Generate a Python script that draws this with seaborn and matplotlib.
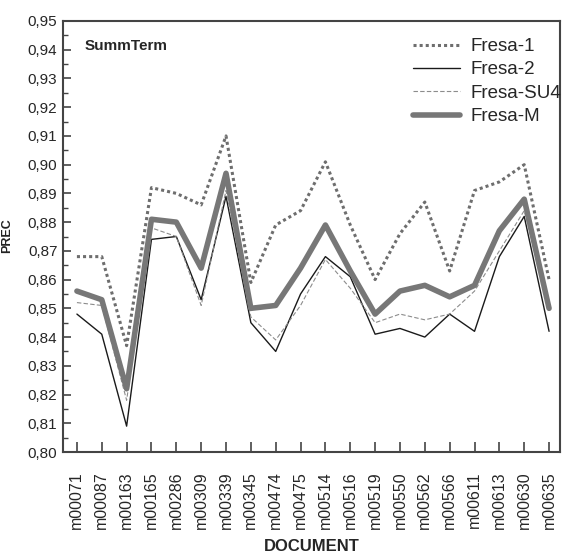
import pandas as pd
import seaborn as sns
import matplotlib
matplotlib.use("Agg")
import matplotlib.pyplot as plt
from matplotlib.ticker import MultipleLocator, FuncFormatter

# -----------------------------------------------------------
# data
# -----------------------------------------------------------
documents = ["m00071", "m00087", "m00163", "m00165", "m00286", "m00309", "m00339",
             "m00345", "m00474", "m00475", "m00514", "m00516", "m00519", "m00550",
             "m00562", "m00566", "m00611", "m00613", "m00630", "m00635"]

fresa_1 = [0.868, 0.868, 0.837, 0.892, 0.890, 0.886, 0.910, 0.859, 0.879, 0.884,
           0.901, 0.879, 0.860, 0.876, 0.887, 0.863, 0.891, 0.894, 0.900, 0.860]
fresa_2 = [0.848, 0.841, 0.809, 0.874, 0.875, 0.853, 0.889, 0.845, 0.835, 0.855,
           0.868, 0.861, 0.841, 0.843, 0.840, 0.848, 0.842, 0.868, 0.882, 0.842]
fresa_su4 = [0.852, 0.851, 0.818, 0.878, 0.875, 0.851, 0.891, 0.847, 0.839, 0.851,
             0.867, 0.857, 0.845, 0.848, 0.846, 0.848, 0.856, 0.870, 0.884, 0.850]
fresa_m = [0.856, 0.853, 0.822, 0.881, 0.880, 0.864, 0.897, 0.850, 0.851, 0.864,
           0.879, 0.863, 0.848, 0.856, 0.858, 0.854, 0.858, 0.877, 0.888, 0.850]

series_names = ["Fresa-1", "Fresa-2", "Fresa-SU4", "Fresa-M"]

sns.set_style("ticks")
plt.rcParams["font.family"] = ["Liberation Sans", "DejaVu Sans"]

df = pd.DataFrame({"DOCUMENT": documents, "Fresa-1": fresa_1, "Fresa-2": fresa_2,
                   "Fresa-SU4": fresa_su4, "Fresa-M": fresa_m})
df["pos"] = range(len(documents))

styles = {
    "Fresa-1": dict(color="#6e6e6e", lw=2.2, ls=(0, (1, 1))),
    "Fresa-2": dict(color="#1a1a1a", lw=1.0, ls="-"),
    "Fresa-SU4": dict(color="#8c8c8c", lw=0.8, ls=(0, (4, 2))),
    "Fresa-M": dict(color="#777777", lw=4.0, ls="-"),
}

fig = plt.figure(figsize=(5.63, 5.53), dpi=100)
ax = fig.add_axes([63 / 563, 1 - 452 / 553, 497 / 563, 431 / 553])

for name in series_names:
    st = styles[name]
    sns.lineplot(data=df, x="pos", y=name, ax=ax, color=st["color"], linewidth=st["lw"],
                 linestyle=st["ls"], label=name, sort=False)

ax.set_xlim(-0.56, 19.44)
ax.set_ylim(0.80, 0.95)
ax.set_xticks(df["pos"])
ax.set_xticklabels(documents, rotation=90, fontsize=11.5)
ax.yaxis.set_major_locator(MultipleLocator(0.01))
ax.yaxis.set_minor_locator(MultipleLocator(0.005))
ax.yaxis.set_major_formatter(FuncFormatter(lambda v, p: f"{v:.2f}".replace(".", ",")))
ax.tick_params(axis="y", which="major", direction="in", length=6, width=1.2,
               labelsize=11, pad=4, color="#444444")
ax.tick_params(axis="y", which="minor", direction="in", length=3.5, width=1.0, color="#444444")
ax.tick_params(axis="x", direction="in", length=7, width=1.2, pad=14, color="#444444")

for sp in ax.spines.values():
    sp.set_color("#444444")
    sp.set_linewidth(1.5)

ax.set_xlabel("DOCUMENT", fontsize=12, fontweight="bold", labelpad=7)
ax.set_ylabel("")

# y label squeezed against the left edge, as in the reference
fig.text(1 / 563, 1 - 236 / 553, "PREC", rotation=90, fontsize=9, fontweight="bold",
         color="#222222", ha="left", va="center")

ax.text(85 / 563, 1 - 46 / 553, "SummTerm", transform=fig.transFigure, fontsize=11,
        fontweight="bold", va="center", ha="left")

leg = ax.legend(loc="upper left", bbox_to_anchor=(413 / 563, 1 - 38 / 553),
                bbox_transform=fig.transFigure, frameon=False, fontsize=13.5,
                handlelength=2.5, handletextpad=0.55, labelspacing=0.33,
                borderpad=0, borderaxespad=0)

fig.savefig("out.png", dpi=100)
